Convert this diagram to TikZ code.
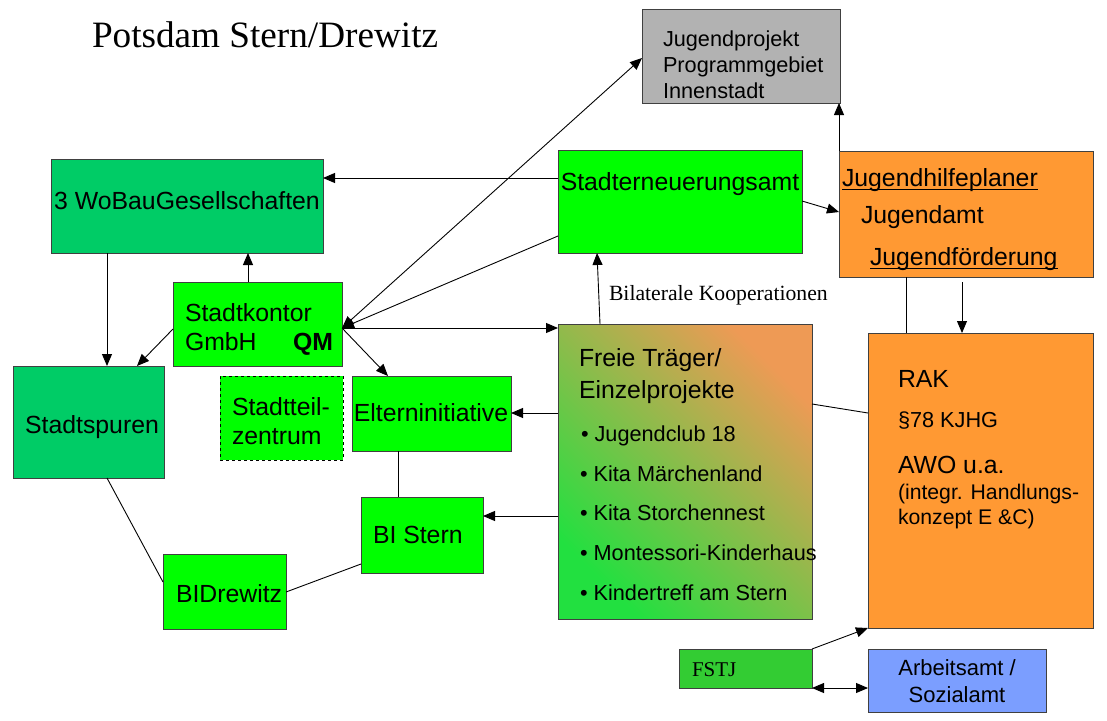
\documentclass[tikz,border=0pt]{standalone}
\usepackage{fontspec}
\setmainfont{Liberation Sans}
\newfontfamily\timesf{Liberation Serif}
\usetikzlibrary{arrows.meta,calc}
\definecolor{lime}{HTML}{00FF00}
\definecolor{wgreen}{HTML}{00CC66}
\definecolor{orng}{HTML}{FF9933}
\definecolor{gry}{HTML}{B2B2B2}
\definecolor{fgreen}{HTML}{33CC33}
\definecolor{blu}{HTML}{7B9EFF}
\definecolor{gradg}{HTML}{22E040}
\definecolor{gradm}{HTML}{B4BC4C}
\definecolor{grado}{HTML}{EE9A55}
\definecolor{boxline}{HTML}{404040}
\newcommand\fa{\fontsize{24.8}{30}\selectfont}
\newcommand\fb{\fontsize{21.7}{26}\selectfont}
\newcommand\myul[1]{\leavevmode\setbox0\hbox{#1}\rlap{\rule[-3.5pt]{\wd0}{1.3pt}}\box0}
\begin{document}
\begin{tikzpicture}[x=1pt,y=-1pt,
  box/.style={draw=boxline, line width=0.8pt, inner sep=0pt, outer sep=0pt},
  txt/.style={inner sep=0pt, outer sep=0pt, text depth=0pt, anchor=west},
  ta/.style={txt, font=\fa, text height=17.8pt},
  tb/.style={txt, font=\fb, text height=15.5pt},
  con/.style={line width=0.9pt, draw=black},
  arr/.style={con, -{Triangle[length=12pt,width=10pt]}},
  arrb/.style={con, {Triangle[length=12pt,width=10pt]}-{Triangle[length=12pt,width=10pt]}}]
\useasboundingbox (0,0) rectangle (1107,720);
% title
\node[txt, font=\timesf\fontsize{37.2}{44}\selectfont, text height=24.6pt] (title) at (92,35) {Potsdam Stern/Drewitz};
% boxes
\node[box, fill=gry, minimum width=198pt, minimum height=94pt] (jp) at (741,56) {};
\node[box, fill=lime, minimum width=244pt, minimum height=103pt] (ser) at (680,201.5) {};
\node[box, fill=wgreen, minimum width=272pt, minimum height=94pt] (wobau) at (187,206) {};
\node[box, fill=lime, minimum width=169pt, minimum height=84pt] (kontor) at (257.5,324) {};
\node[box, fill=wgreen, minimum width=151pt, minimum height=112pt] (spuren) at (88.5,422) {};
\node[box, fill=lime, draw=black, dashed, dash pattern=on 3pt off 3pt, minimum width=123pt, minimum height=84pt] (stz) at (281.5,418) {};
\node[box, fill=lime, minimum width=159pt, minimum height=75pt] (eltern) at (431.5,413.5) {};
\node[box, fill=lime, minimum width=122pt, minimum height=76pt] (bistern) at (422,535) {};
\node[box, fill=lime, minimum width=123pt, minimum height=75pt] (bidrew) at (224.5,591.5) {};
\node[box, left color=gradg, middle color=gradm, right color=grado, shading angle=135, minimum width=254pt, minimum height=295pt] (ft) at (685,471.5) {};
\node[box, fill=orng, minimum width=254pt, minimum height=126pt] (jhp) at (966,214) {};
\node[box, fill=orng, minimum width=225pt, minimum height=295pt] (rak) at (980.5,480.5) {};
\node[box, fill=fgreen, minimum width=133pt, minimum height=39pt] (fstj) at (745.5,668.5) {};
\node[box, fill=blu, minimum width=178pt, minimum height=63pt] (aa) at (957,680.5) {};
% texts
\node[tb] (jp1) at (663,39) {Jugendprojekt};
\node[tb] (jp2) at (663,65) {Programmgebiet};
\node[tb] (jp3) at (663,91) {Innenstadt};
\node[ta, anchor=center] (sert) at (680,182) {Stadterneuerungsamt};
\node[ta, anchor=center] (wobaut) at (187,201) {3 WoBauGesellschaften};
\node[ta] (k1) at (185,313) {Stadtkontor};
\node[ta] (k2) at (185,342) {GmbH};
\node[ta, font=\fa\bfseries] (k3) at (293,342) {QM};
\node[ta, anchor=center] (spurent) at (92,425) {Stadtspuren};
\node[ta] (stz1) at (232,407) {Stadtteil-};
\node[ta] (stz2) at (232,436) {zentrum};
\node[ta, anchor=center] (eltt) at (431,413) {Elterninitiative};
\node[ta] (bist) at (373,535) {BI Stern};
\node[ta] (bidt) at (176,594) {BIDrewitz};
\node[ta] (ft1) at (579,358) {Freie Träger/};
\node[ta] (ft2) at (579,390) {Einzelprojekte};
\node[tb] (ft3) at (581,434) {• Jugendclub 18};
\node[tb] (ft4) at (580,474) {• Kita Märchenland};
\node[tb] (ft5) at (580,513) {• Kita Storchennest};
\node[tb] (ft6) at (580,553) {• Montessori-Kinderhaus};
\node[tb] (ft7) at (580,593) {• Kindertreff am Stern};
\node[ta] (jh1) at (842,178) {\myul{Jugendhilfeplaner}};
\node[ta] (jh2) at (861,215) {Jugendamt};
\node[ta] (jh3) at (870,257) {\myul{Jugendförderung}};
\node[ta] (r1) at (898,379) {RAK};
\node[tb] (r2) at (898,420) {§78 KJHG};
\node[ta] (r3) at (898,465) {AWO u.a.};
\node[tb, font=\fontsize{21.2}{26}\selectfont] (r4) at (898,492) {(integr. Handlungs-};
\node[tb, font=\fontsize{21.2}{26}\selectfont] (r5) at (898,517) {konzept E \&C)};
\node[txt, font=\timesf\fontsize{21}{26}\selectfont, text height=13.9pt] (fstjt) at (692,670) {FSTJ};
\node[tb, anchor=center, font=\fontsize{22}{26}\selectfont] (aa1) at (957,668) {Arbeitsamt /};
\node[tb, anchor=center, font=\fontsize{22}{26}\selectfont] (aa2) at (957,695) {Sozialamt};
% connectors
\coordinate (k) at (kontor.east |- 0,328);
\draw[arr] (ser.west |- 0,178) -- (wobau.east |- 0,178);
\draw[arr] (ser.east |- 0,201) -- (jhp.west |- 0,212);
\draw[arr] (jhp.north west) -- (jhp.north west |- jp.south);
\draw[arrb] (k) -- (jp.west |- 0,58);
\draw[arr] (ser.west |- 0,236) -- (k);
\draw[arr] (k) -- (ft.west |- 0,328);
\draw[arr] (k) -- (eltern.north -| 388,0);
\draw[arr] (kontor.north -| 248,0) -- (wobau.south -| 248,0);
\draw[arr] (wobau.south -| 107,0) -- (spuren.north -| 107,0);
\draw[arr] (kontor.west |- 0,329) -- (spuren.north -| 137,0);
\draw[arr] (ft.west |- 0,413) -- (eltern.east |- 0,413);
\draw[con] (eltern.south -| 398,0) -- (bistern.north -| 398,0);
\draw[arr] (ft.west |- 0,516) -- (bistern.east |- 0,516);
\draw[con] (bidrew.east |- 0,592) -- (bistern.west |- 0,564);
\draw[con] (spuren.south -| 107,0) -- (bidrew.west |- 0,582);
\draw[arr] (ft.north -| 600,0) -- (ser.south -| 597,0);
\node[txt, font=\timesf\fontsize{21.7}{26}\selectfont, text height=14.4pt] (bil) at (609,293) {Bilaterale Kooperationen};
\draw[con] (ft.east |- 0,404) -- (rak.west |- 0,413);
\draw[con] (jhp.south -| 906,0) -- (rak.north -| 906,0);
\draw[arr] ($(jhp.south -| 962,0)+(0,5)$) -- (rak.north -| 962,0);
\draw[arr] (fstj.north east) -- (rak.south west);
\draw[arrb] (fstj.south east) -- (aa.west |- fstj.south east);
\end{tikzpicture}
\end{document}
